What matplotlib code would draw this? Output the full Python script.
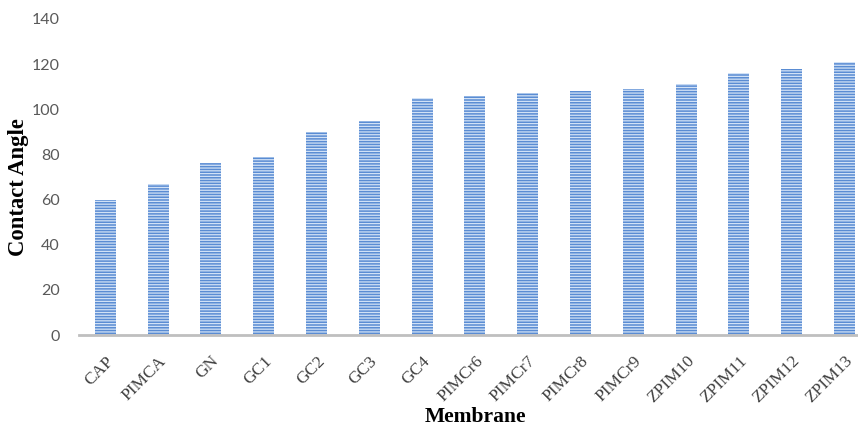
import matplotlib
matplotlib.use("Agg")
import matplotlib.pyplot as plt

membranes = ["CAP", "PIMCA", "GN", "GC1", "GC2", "GC3", "GC4", "PIMCr6", "PIMCr7",
             "PIMCr8", "PIMCr9", "ZPIM10", "ZPIM11", "ZPIM12", "ZPIM13"]
contact_angle = [60, 67, 76, 79, 90, 95, 105, 106, 107, 108, 109, 111, 116, 118, 121]
y_ticks = [0, 20, 40, 60, 80, 100, 120, 140]

plt.rcParams["hatch.linewidth"] = 0.9

fig = plt.figure(figsize=(8.58, 4.29), dpi=100)
ax = fig.add_axes([0.092, 0.219, 0.923, 0.737])

x = range(len(membranes))
ax.bar(x, contact_angle, width=0.4, color="#5a8cd3", edgecolor="#d2e2f6",
       linewidth=0, hatch="------", zorder=2)

ax.set_xlim(-0.5, len(membranes) - 0.5)
ax.set_ylim(0, 140)
ax.set_yticks(y_ticks)
ax.set_yticklabels([str(v) for v in y_ticks], fontfamily="Lato", fontsize=11.5, color="#595959")
ax.set_xticks(list(x))
ax.set_xticklabels(membranes, rotation=45, ha="right", va="top", rotation_mode="anchor",
                   fontfamily="Liberation Serif", fontsize=12.5, color="#404040")

for side in ["top", "right", "left"]:
    ax.spines[side].set_visible(False)
ax.spines["bottom"].set_color("#bfbfbf")
ax.spines["bottom"].set_linewidth(2)
ax.tick_params(axis="y", length=0, pad=14)
ax.tick_params(axis="x", length=0, pad=13)

fig.text(0.554, 0.004, "Membrane", ha="center", va="bottom",
         fontfamily="Liberation Serif", fontweight="bold", fontsize=15.5)
fig.text(0.022, 0.564, "Contact Angle", ha="center", va="center", rotation=90,
         fontfamily="Liberation Serif", fontweight="bold", fontsize=16.3)

fig.savefig("out.png", dpi=100)
